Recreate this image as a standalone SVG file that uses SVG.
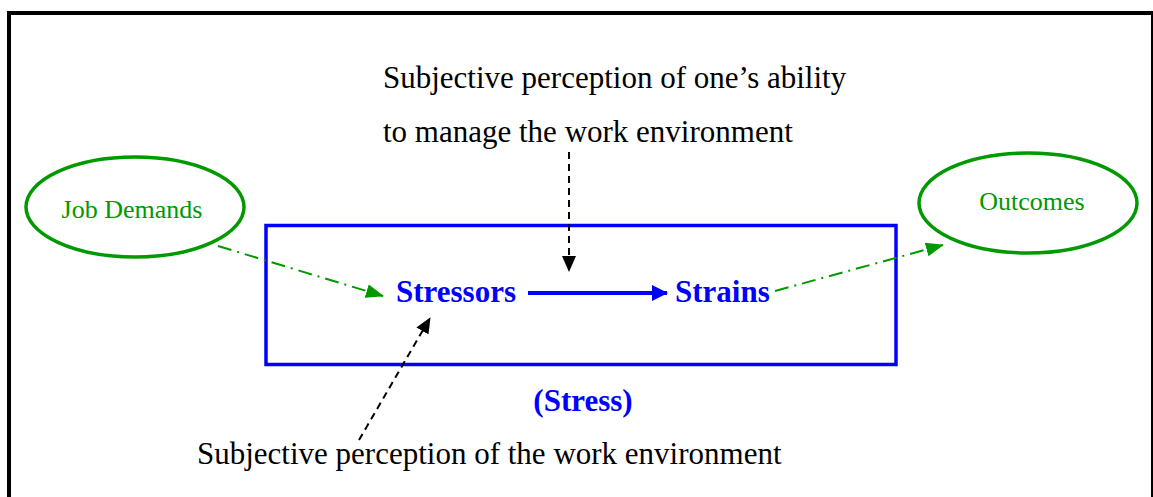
<svg xmlns="http://www.w3.org/2000/svg" width="1153" height="497" viewBox="0 0 1153 497">
<style>
.frame{fill:none;stroke:#000;stroke-width:4}
.ell{fill:#fff;stroke:#009900;stroke-width:3.5}
.gtxt{font-family:"Liberation Serif",serif;font-size:26px;fill:#009900;text-anchor:middle}
.btxt{font-family:"Liberation Serif",serif;font-size:31px;font-weight:bold;fill:#0000ff}
.ktxt{font-family:"Liberation Serif",serif;font-size:31px;fill:#000}
.green{fill:none;stroke:#009900;stroke-width:2;stroke-dasharray:14 6 2 6}
.black{fill:none;stroke:#000;stroke-width:2;stroke-dasharray:7 5}
.blue{fill:none;stroke:#0000ff;stroke-width:4}
</style>
<defs>
<marker id="ag" markerWidth="18" markerHeight="14" refX="17" refY="7" orient="auto" markerUnits="userSpaceOnUse"><path d="M0,0 L18,7 L0,14 Z" fill="#009900"/></marker>
<marker id="ak" markerWidth="16" markerHeight="14" refX="15" refY="7" orient="auto" markerUnits="userSpaceOnUse"><path d="M0,0 L16,7 L0,14 Z" fill="#000"/></marker>
<marker id="ab" markerWidth="16" markerHeight="16" refX="15" refY="8" orient="auto" markerUnits="userSpaceOnUse"><path d="M0,0 L16,8 L0,16 Z" fill="#0000ff"/></marker>
</defs>
<rect width="1153" height="497" fill="#fff"/>
<rect class="frame" x="9" y="13" width="1144" height="500"/>
<g id="stress-box">
<rect x="266" y="225.5" width="630" height="139" fill="none" stroke="#0000ff" stroke-width="3.5"/>
<text class="btxt" x="583" y="411" text-anchor="middle">(Stress)</text>
</g>
<g id="job-demands">
<ellipse class="ell" cx="135" cy="207" rx="109" ry="50"/>
<text class="gtxt" x="132" y="218">Job Demands</text>
</g>
<g id="outcomes">
<ellipse class="ell" cx="1028" cy="203" rx="109" ry="50"/>
<text class="gtxt" x="1032" y="210">Outcomes</text>
</g>
<g id="stressors">
<text class="btxt" x="396" y="302">Stressors</text>
</g>
<g id="strains">
<text class="btxt" x="675" y="302">Strains</text>
</g>
<g id="ability-label">
<text class="ktxt" x="383" y="88">Subjective perception of one’s ability</text>
<text class="ktxt" x="383" y="142">to manage the work environment</text>
</g>
<g id="environment-label">
<text class="ktxt" x="197" y="464">Subjective perception of the work environment</text>
</g>
<g id="connectors">
<line class="green" x1="218" y1="246" x2="383" y2="296" marker-end="url(#ag)"/>
<line class="green" x1="775" y1="291" x2="943" y2="245" marker-end="url(#ag)"/>
<line class="blue" x1="528" y1="293" x2="667" y2="293" marker-end="url(#ab)"/>
<line class="black" x1="569" y1="152" x2="569" y2="271" marker-end="url(#ak)"/>
<line class="black" x1="359" y1="440" x2="430" y2="318" marker-end="url(#ak)"/>
</g>
</svg>
